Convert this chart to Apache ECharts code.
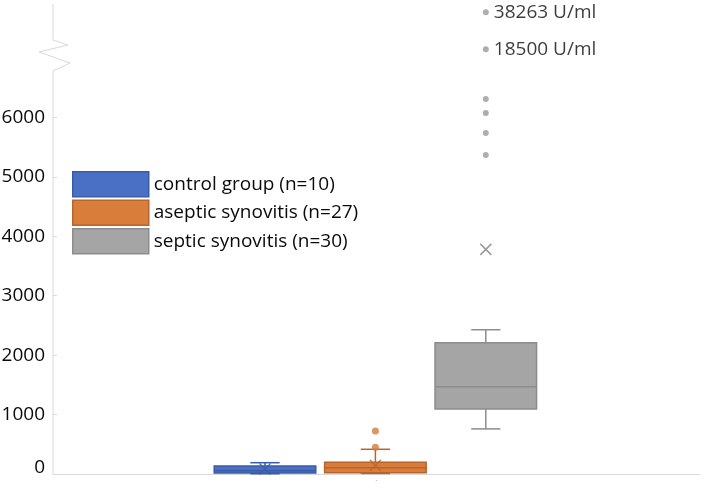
<!DOCTYPE html>
<html>
<head>
<meta charset="utf-8">
<script src="https://cdn.jsdelivr.net/npm/echarts@6/dist/echarts.min.js"></script>
<style>
html,body{margin:0;padding:0;background:#fff;}
#chart{width:709px;height:492px;}
</style>
</head>
<body>
<div id="chart"></div>
<script>
// ---- data ----
const categories = ['control group (n=10)', 'aseptic synovitis (n=27)', 'septic synovitis (n=30)'];
const groupPos = [-1, 0, 1];
const boxMin = [5, 10, 759];
const boxQ1 = [15, 22, 1096];
const boxMedian = [55, 106, 1467];
const boxQ3 = [135, 197, 2209];
const boxMax = [190, 416, 2428];
const means = [85, 145, 3780];
const outliersAseptic = [450, 725];
const outliersSeptic = [5370, 5740, 6075, 6310, 18500, 38263];
const yTicks = [0, 1000, 2000, 3000, 4000, 5000, 6000];

// ---- styles ----
const fills = ['#4A70C6', '#D97D3B', '#A5A5A5'];
const strokes = ['#3A5CA8', '#B8652C', '#8C8C8C'];
const FONT = 'Open Sans';
const TEXT = '#0a0a0a';
const X_MIN = -2.92, X_MAX = 2.94, Y_MAX = 38400;

function makeRender(fill, stroke) {
  return function (params, api) {
    const x = api.value(0);
    const c = v => api.coord([x, v]);
    const pMin = c(api.value(1)), pQ1 = c(api.value(2)), pMed = c(api.value(3)),
          pQ3 = c(api.value(4)), pMax = c(api.value(5));
    const unit = api.coord([x + 1, 0])[0] - api.coord([x, 0])[0];
    const bw = unit * 0.92, cw = unit * 0.265;
    const cx = pMed[0];
    const ls = { stroke: stroke, lineWidth: 1.5 };
    return {
      type: 'group',
      children: [
        { type: 'line', shape: { x1: cx, y1: pQ3[1], x2: cx, y2: pMax[1] }, style: ls },
        { type: 'line', shape: { x1: cx, y1: pMin[1], x2: cx, y2: pQ1[1] }, style: ls },
        { type: 'line', shape: { x1: cx - cw / 2, y1: pMax[1], x2: cx + cw / 2, y2: pMax[1] }, style: ls },
        { type: 'line', shape: { x1: cx - cw / 2, y1: pMin[1], x2: cx + cw / 2, y2: pMin[1] }, style: ls },
        { type: 'rect', shape: { x: cx - bw / 2, y: pQ3[1], width: bw, height: pQ1[1] - pQ3[1] },
          style: { fill: fill, stroke: stroke, lineWidth: 1.5 } },
        { type: 'line', shape: { x1: cx - bw / 2, y1: pMed[1], x2: cx + bw / 2, y2: pMed[1] }, style: ls }
      ]
    };
  };
}

const series = [];
categories.forEach((name, i) => {
  series.push({
    name: name,
    type: 'custom',
    xAxisIndex: 1,
    yAxisIndex: 0,
    renderItem: makeRender(fills[i], strokes[i]),
    itemStyle: { color: fills[i], borderColor: strokes[i] },
    encode: { x: 0, y: [1, 2, 3, 4, 5] },
    data: [[groupPos[i], boxMin[i], boxQ1[i], boxMedian[i], boxQ3[i], boxMax[i]]],
    z: 2
  });
});

// means (x markers)
categories.forEach((name, i) => {
  series.push({
    type: 'scatter',
    xAxisIndex: 1,
    yAxisIndex: 0,
    symbol: 'path://M0,0L10,10M10,0L0,10',
    symbolSize: 11,
    itemStyle: { color: 'transparent', borderColor: i === 2 ? '#7F7F7F' : strokes[i], borderWidth: 1.5 },
    data: [[groupPos[i], means[i]]],
    z: 5,
    silent: true
  });
});

series.push({
  type: 'scatter',
  xAxisIndex: 1,
  yAxisIndex: 0,
  symbol: 'circle',
  symbolSize: 7,
  itemStyle: { color: '#D57A3A' },
  data: outliersAseptic.map(v => [groupPos[1], v]),
  z: 5
});
series.push({
  type: 'scatter',
  xAxisIndex: 1,
  yAxisIndex: 0,
  symbol: 'circle',
  symbolSize: 6,
  itemStyle: { color: '#9A9A9A' },
  label: {
    show: true,
    position: 'right',
    distance: 5,
    fontFamily: FONT,
    fontSize: 19,
    color: TEXT,
    formatter: p => (p.value[1] > 10000 ? p.value[1] + ' U/ml' : '')
  },
  data: outliersSeptic.map(v => [groupPos[2], v]),
  z: 5
});

const option = {
  animation: false,
  backgroundColor: '#fff',
  grid: { left: 53, right: 9, top: 4, bottom: 18, containLabel: false, outerBoundsMode: 'none' },
  legend: {
    orient: 'vertical',
    left: 67,
    top: 166,
    itemWidth: 76,
    itemHeight: 25,
    itemGap: 2,
    textStyle: { fontFamily: FONT, fontSize: 19, color: TEXT },
    data: categories.map((n, i) => ({
      name: n, icon: 'rect',
      itemStyle: { color: fills[i], borderColor: strokes[i], borderWidth: 1.5 }
    }))
  },
  xAxis: [
    {
      type: 'category',
      data: ['-'],
      axisLine: { show: true, lineStyle: { color: '#D9D9D9', width: 1 } },
      axisTick: { show: false },
      axisLabel: { fontSize: 6, color: '#888', margin: 3 },
      splitLine: { show: false }
    },
    {
      type: 'value',
      show: false,
      min: X_MIN,
      max: X_MAX,
      splitLine: { show: false }
    }
  ],
  yAxis: {
    type: 'value',
    min: 0,
    max: Y_MAX,
    breaks: [
      { start: 6600, end: 18400, gap: 450 },
      { start: 18600, end: 38160, gap: 420 }
    ],
    breakArea: { show: false },
    axisLine: { show: false, onZero: false },
    axisTick: { show: true, inside: true, length: 4, lineStyle: { color: '#D9D9D9' }, customValues: yTicks },
    axisLabel: { customValues: yTicks, fontFamily: FONT, fontSize: 19, color: TEXT, margin: 8,
                 lineHeight: 12, verticalAlignMinLabel: 'bottom',
                 formatter: v => String(v) },
    splitLine: { show: false }
  },
  series: series
};

const chart = echarts.init(document.getElementById('chart'), null, { renderer: 'canvas' });
chart.setOption(option);

// value-axis line with a break zigzag
const axisX = chart.convertToPixel({ xAxisIndex: 1 }, X_MIN);
const axisTop = chart.convertToPixel({ yAxisIndex: 0 }, Y_MAX);
const axisBottom = chart.convertToPixel({ yAxisIndex: 0 }, 0);
chart.setOption({
  graphic: [
    { type: 'polyline',
      shape: { points: [[axisX, axisTop], [axisX, axisTop + 36], [axisX + 15, axisTop + 41], [axisX - 14, axisTop + 48],
                        [axisX + 17, axisTop + 59], [axisX, axisTop + 67], [axisX, axisBottom]] },
      style: { stroke: '#D9D9D9', lineWidth: 1, fill: null }, z: 101 }
  ]
});
</script>
</body>
</html>
